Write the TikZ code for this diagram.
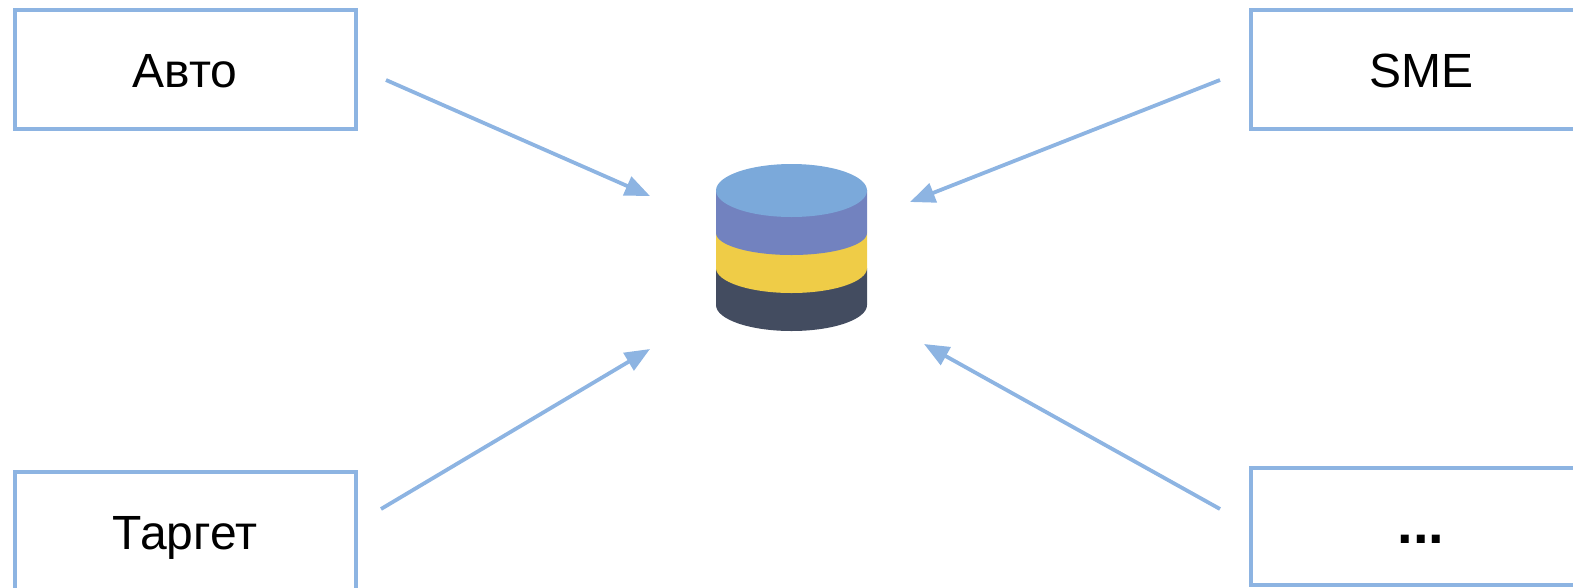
\documentclass[tikz,border=0pt]{standalone}
\usepackage{fontspec}
\setmainfont{Liberation Sans}
\usetikzlibrary{arrows.meta}
\definecolor{linkblue}{HTML}{8DB4E2}
\definecolor{cyla}{HTML}{7BA9DA}
\definecolor{cylb}{HTML}{7282BF}
\definecolor{cylc}{HTML}{EFCC47}
\definecolor{cyld}{HTML}{434C60}
\tikzset{
  srcbox/.style={draw=linkblue,line width=4pt,fill=white,minimum width=341pt,minimum height=119pt,inner sep=0pt,outer sep=0pt,text height=36pt,text depth=0pt,font=\fontsize{48}{52}\selectfont,text=black,anchor=north west},
  feed/.style={draw=linkblue,line width=3.8pt,-{Triangle[length=25pt,width=20pt]}}
}
\begin{document}
\begin{tikzpicture}[x=1pt,y=-1pt]
\useasboundingbox (0,0) rectangle (1573,587);
\clip (0,0) rectangle (1573,587);
\node[srcbox] (avto) at (14.5,9.5) {Авто};
\node[srcbox] (sme) at (1250.5,9.5) {SME};
\node[srcbox] (target) at (14.5,471.5) {Таргет};
\node[srcbox,minimum height=117pt,text height=34pt,font=\fontsize{56}{60}\selectfont\bfseries] (more) at (1250.5,467.5) {...};
% cylinder
\fill[cyld] (716,268) -- (716,305) arc[start angle=180,end angle=0,x radius=75.5,y radius=26] -- (867,268) -- cycle;
\fill[cylc] (716,233) -- (716,268) arc[start angle=180,end angle=0,x radius=75.5,y radius=25] -- (867,233) -- cycle;
\fill[cylb] (716,190) -- (716,233) arc[start angle=180,end angle=0,x radius=75.5,y radius=22] -- (867,190) -- cycle;
\fill[cyla] (791.5,190.5) ellipse[x radius=75.5,y radius=26.5];
\coordinate (a1) at (386,80); \coordinate (a2) at (650,196);
\coordinate (b1) at (1220,80); \coordinate (b2) at (910,202);
\coordinate (c1) at (381,509); \coordinate (c2) at (650,349);
\coordinate (d1) at (1220,509); \coordinate (d2) at (924,344);
\draw[feed] (a1) -- (a2);
\draw[feed] (b1) -- (b2);
\draw[feed] (c1) -- (c2);
\draw[feed] (d1) -- (d2);
\end{tikzpicture}
\end{document}
